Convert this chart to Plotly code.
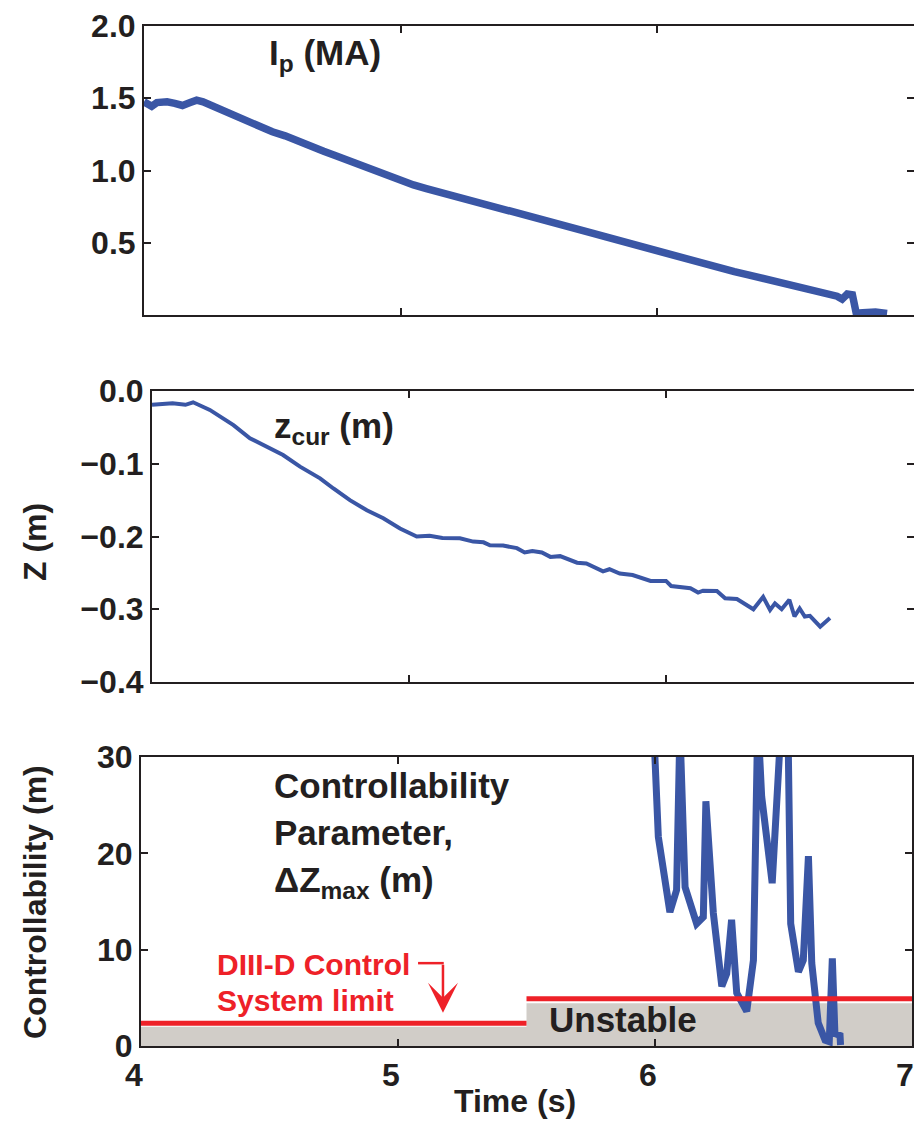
import plotly.graph_objects as go

# ---------------- data ----------------
ip_t = [4.00, 4.03, 4.05, 4.09, 4.12, 4.15, 4.18, 4.205, 4.23, 4.25, 4.27, 4.30, 4.35, 4.40, 4.45,
        4.50, 4.55, 4.60, 4.65, 4.70, 4.75, 4.80, 4.85, 4.90, 4.95, 5.00, 5.05, 5.10, 5.15,
        5.20, 5.25, 5.30, 5.35, 5.40, 5.45, 5.50, 5.55, 5.60, 5.65, 5.70, 5.75, 5.80, 5.85,
        5.90, 5.95, 6.00, 6.05, 6.10, 6.15, 6.20, 6.25, 6.30, 6.35, 6.40, 6.45, 6.50, 6.55,
        6.60, 6.65, 6.68, 6.70, 6.72, 6.74, 6.76, 6.775, 6.80, 6.85, 6.895]
ip_val = [1.475, 1.445, 1.47, 1.475, 1.465, 1.45, 1.47, 1.487, 1.475, 1.46, 1.44, 1.41, 1.375, 1.337,
          1.305, 1.268, 1.24, 1.20, 1.17, 1.133, 1.10, 1.065, 1.03, 0.995, 0.96, 0.93, 0.90,
          0.875, 0.852, 0.83, 0.805, 0.78, 0.755, 0.73, 0.705, 0.68, 0.66, 0.635, 0.61, 0.59,
          0.565, 0.54, 0.515, 0.49, 0.47, 0.445, 0.42, 0.395, 0.37, 0.35, 0.325, 0.30, 0.28,
          0.26, 0.24, 0.22, 0.20, 0.175, 0.155, 0.14, 0.13, 0.11, 0.145, 0.14, 0.012, 0.015,
          0.02, 0.01]

z_t = [4.00, 4.08, 4.13, 4.16, 4.225, 4.265, 4.317, 4.381, 4.447, 4.51, 4.576, 4.654, 4.706,
       4.77, 4.836, 4.90, 4.965, 5.03, 5.08, 5.13, 5.198, 5.25, 5.29, 5.315, 5.366, 5.42, 5.45,
       5.48, 5.517, 5.55, 5.588, 5.654, 5.69, 5.755, 5.78, 5.82, 5.87, 5.94, 6.00, 6.02, 6.095,
       6.125, 6.144, 6.198, 6.23, 6.276, 6.34, 6.378, 6.405, 6.424, 6.45, 6.48, 6.50, 6.52,
       6.54, 6.56, 6.60, 6.638]
z_val = [-0.019, -0.017, -0.019, -0.0155, -0.026, -0.035, -0.047, -0.065, -0.0765, -0.088,
         -0.104, -0.12, -0.134, -0.15, -0.164, -0.175, -0.189, -0.20, -0.199, -0.202, -0.2025,
         -0.207, -0.208, -0.212, -0.2125, -0.216, -0.222, -0.22, -0.222, -0.228, -0.227, -0.236,
         -0.237, -0.248, -0.245, -0.251, -0.253, -0.261, -0.261, -0.268, -0.271, -0.277,
         -0.2745, -0.275, -0.285, -0.286, -0.30, -0.283, -0.301, -0.292, -0.30, -0.287, -0.31,
         -0.299, -0.31, -0.309, -0.324, -0.312]

dz_t = [5.99, 6.013, 6.058, 6.084, 6.097, 6.117, 6.162, 6.188, 6.198, 6.227, 6.26, 6.279, 6.298,
        6.318, 6.357, 6.383, 6.40, 6.415, 6.456, 6.48, 6.492, 6.517, 6.528, 6.558, 6.577, 6.597,
        6.61, 6.635, 6.662, 6.678, 6.69, 6.70, 6.72, 6.722]
dz_val = [36, 21.7, 13.9, 16.2, 33, 16.5, 12.7, 13.4, 25.4, 13.8, 6.2, 7.5, 13.1, 5.5, 3.6, 8.9,
          34, 25.9, 16.9, 25.9, 34, 34, 12.7, 7.7, 8.9, 19.7, 8.6, 2.4, 0.6, 0.45, 9.1, 1.3,
          1.1, 0.1]

# control-system limit (two segments) and the unstable region below it
limit_t = [4.0, 5.5, None, 5.5, 7.0]
limit_val = [2.35, 2.35, None, 4.9, 4.9]
unstable_t = [4.0, 5.5, 5.5, 7.0]
unstable_top = [2.0, 2.0, 4.45, 4.45]

ip_ticks = [0.5, 1.0, 1.5, 2.0]
z_ticks = [0.0, -0.1, -0.2, -0.3, -0.4]
dz_ticks = [0, 10, 20, 30]
time_ticks = [4, 5, 6, 7]

# ---------------- style ----------------
FONT = "Liberation Sans, Arial, sans-serif"
INK = "#231f20"
BLUE = "#3a56a5"
RED = "#ee2128"
GRAY = "#d1cdc8"
W, H = 914, 1123

fig = go.Figure()

fig.add_trace(go.Scatter(x=ip_t, y=ip_val, mode="lines", xaxis="x", yaxis="y",
                         line=dict(color=BLUE, width=7.5), showlegend=False))
fig.add_trace(go.Scatter(x=z_t, y=z_val, mode="lines", xaxis="x2", yaxis="y2",
                         line=dict(color=BLUE, width=4), showlegend=False))
fig.add_trace(go.Scatter(x=unstable_t, y=unstable_top, mode="lines", xaxis="x3", yaxis="y3",
                         fill="tozeroy", fillcolor=GRAY, line=dict(width=0, color=GRAY),
                         showlegend=False))
fig.add_trace(go.Scatter(x=dz_t, y=dz_val, mode="lines", xaxis="x3", yaxis="y3",
                         line=dict(color=BLUE, width=7), showlegend=False))
fig.add_trace(go.Scatter(x=limit_t, y=limit_val, mode="lines", xaxis="x3", yaxis="y3",
                         line=dict(color=RED, width=5), connectgaps=False, showlegend=False))

def ydom(top_px, bot_px):
    return [1 - bot_px / H, 1 - top_px / H]

tickfont = dict(family=FONT, size=32, color=INK, weight="bold")
common_axis = dict(showline=True, linecolor=INK, linewidth=2, mirror="ticks",
                   ticks="inside", ticklen=7, tickwidth=2, tickcolor=INK,
                   showgrid=False, zeroline=False, tickfont=tickfont, automargin=False)

fig.update_layout(
    template="none",
    width=W, height=H, margin=dict(l=0, r=0, t=0, b=0, pad=0),
    paper_bgcolor="white", plot_bgcolor="white",
    xaxis=dict(domain=[144 / W, 1.0], range=[4, 7], anchor="y", tickvals=[5, 6],
               showticklabels=False, **common_axis),
    yaxis=dict(domain=ydom(26, 315), range=[0, 2.0], anchor="x", tickvals=ip_ticks,
               tickformat=".1f", **common_axis),
    xaxis2=dict(domain=[152 / W, 1.0], range=[4, 6.965], anchor="y2", tickvals=[5, 6],
                showticklabels=False, **common_axis),
    yaxis2=dict(domain=ydom(391, 682), range=[-0.4, 0.0], anchor="x2", tickvals=z_ticks,
                tickformat=".1f", **common_axis),
    xaxis3=dict(domain=[141 / W, 912 / W], range=[4, 7], anchor="y3", tickvals=time_ticks,
                ticklabelshift=-7, **common_axis),
    yaxis3=dict(domain=ydom(757, 1046), range=[0, 30], anchor="x3", tickvals=dz_ticks,
                **common_axis),
)

def txt(size, color=INK):
    return dict(family=FONT, size=size, color=color, weight="bold")

annotations = [
    # panel labels
    dict(x=4.479, y=1.80, xref="x", yref="y", text="I<sub>p</sub> (MA)", showarrow=False,
         xanchor="left", yanchor="middle", font=txt(35)),
    dict(x=4.467, y=-0.051, xref="x2", yref="y2", text="z<sub>cur</sub> (m)", showarrow=False,
         xanchor="left", yanchor="middle", font=txt(35)),
    dict(x=4.51, y=27.0, xref="x3", yref="y3", text="Controllability", showarrow=False,
         xanchor="left", yanchor="middle", font=txt(35)),
    dict(x=4.51, y=22.2, xref="x3", yref="y3", text="Parameter,", showarrow=False,
         xanchor="left", yanchor="middle", font=txt(35)),
    dict(x=4.51, y=17.0, xref="x3", yref="y3", text="ΔZ<sub>max</sub> (m)", showarrow=False,
         xanchor="left", yanchor="middle", font=txt(35)),
    dict(x=4.288, y=8.5, xref="x3", yref="y3", text="DIII-D Control", showarrow=False,
         xanchor="left", yanchor="middle", font=txt(30, RED)),
    dict(x=4.288, y=4.7, xref="x3", yref="y3", text="System limit", showarrow=False,
         xanchor="left", yanchor="middle", font=txt(30, RED)),
    dict(x=5.58, y=2.7, xref="x3", yref="y3", text="Unstable", showarrow=False,
         xanchor="left", yanchor="middle", font=txt(35)),
    # arrow from the callout to the limit line
    dict(x=5.175, y=3.45, xref="x3", yref="y3", ax=5.175, ay=8.6, axref="x3", ayref="y3",
         showarrow=True, arrowhead=3, arrowsize=2.0, arrowwidth=2.5, arrowcolor=RED, text=""),
    # axis titles
    dict(x=35 / W, y=1 - 542 / H, xref="paper", yref="paper", text="Z (m)", textangle=-90,
         showarrow=False, xanchor="center", yanchor="middle", font=txt(32)),
    dict(x=35 / W, y=1 - 902 / H, xref="paper", yref="paper", text="Controllability (m)",
         textangle=-90, showarrow=False, xanchor="center", yanchor="middle", font=txt(32)),
    dict(x=515 / W, y=1 - 1101 / H, xref="paper", yref="paper", text="Time (s)",
         showarrow=False, xanchor="center", yanchor="middle", font=txt(32)),
]
fig.update_layout(annotations=annotations)

fig.add_shape(type="line", xref="x3", yref="y3", x0=5.078, x1=5.178, y0=8.6, y1=8.6,
              line=dict(color=RED, width=2.5))

fig.write_html("out.html")
